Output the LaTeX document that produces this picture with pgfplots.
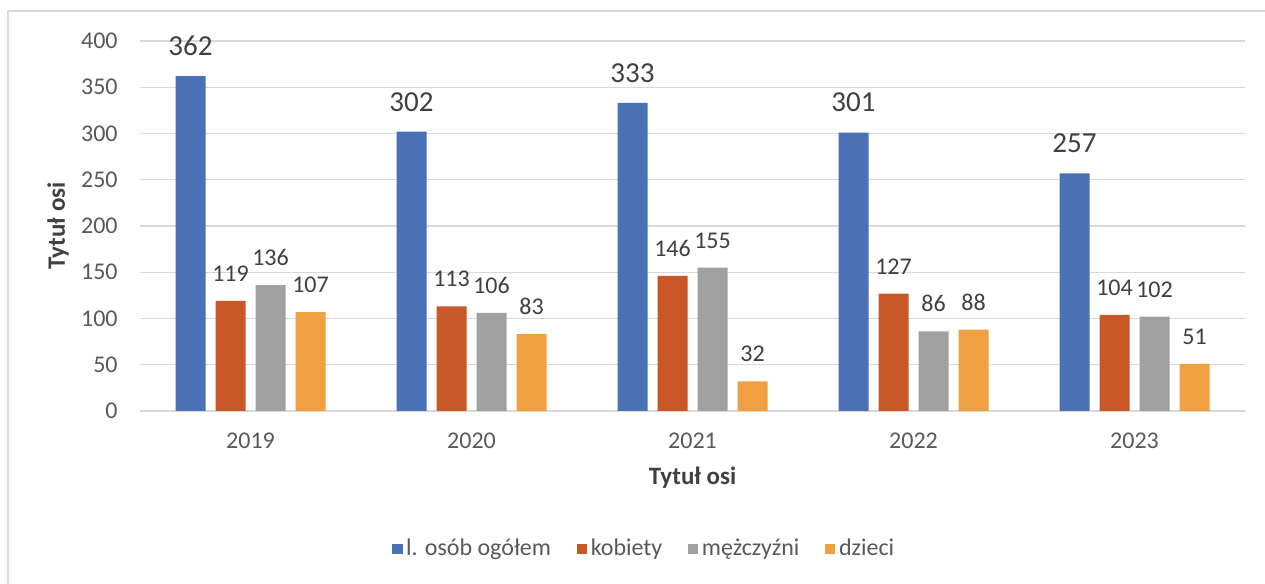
\documentclass[border=0pt]{standalone}
\usepackage{pgfplots}
\pgfplotsset{compat=1.18}
\usepackage{fontspec}
\setmainfont{Carlito}

\definecolor{cBlue}{HTML}{4A70B6}
\definecolor{cRed}{HTML}{C85828}
\definecolor{cGray}{HTML}{A0A0A0}
\definecolor{cGold}{HTML}{F0A040}
\definecolor{cGrid}{HTML}{D9D9D9}
\definecolor{cTick}{HTML}{595959}
\definecolor{cLabel}{HTML}{404040}

\begin{document}
\begin{tikzpicture}
\useasboundingbox (0,0) rectangle (632.5pt,292pt);
\fill[white] (0,0) rectangle (632.5pt,292pt);
\draw[cGrid, line width=0.6pt] (4pt,0) -- (4pt,286.5pt) -- (632.5pt,286.5pt);

\begin{axis}[
    at={(70pt,86.5pt)}, anchor=south west,
    scale only axis, width=552.5pt, height=185pt,
    ybar=5pt, bar width=15pt,
    xmin=-0.5, xmax=4.5, ymin=0, ymax=400,
    xtick=data, xticklabels={2019,2020,2021,2022,2023},
    ytick={0,50,...,400},
    major tick length=0pt,
    axis line style={draw=none},
    ymajorgrids, grid style={cGrid, line width=0.6pt},
    /pgf/number format/assume math mode=true,
    ticklabel style={font=\fontsize{12}{14}\selectfont, text=cTick},
    xticklabel style={anchor=center, yshift=-15pt},
    yticklabel style={anchor=east, inner sep=0pt, xshift=-11pt},
    xlabel={Tytuł osi}, ylabel={Tytuł osi},
    label style={font=\fontsize{12.5}{14}\selectfont\bfseries, text=cLabel},
    xlabel style={at={(axis description cs:0.5,-0.181)}, anchor=center},
    ylabel style={at={(axis description cs:-0.0742,0.5)}, anchor=center},
    nodes near coords,
    every node near coord/.append style={font=\fontsize{12}{14}\selectfont, text=cLabel, inner sep=0pt, yshift=9.5pt},
    clip=false,
    legend image code/.code={\fill[#1, draw=none] (0pt,-2.6pt) rectangle (5.2pt,2.6pt);},
    legend style={at={(axis description cs:0.457,-0.373)}, anchor=center,
        draw=none, fill=none, legend columns=-1,
        nodes={inner sep=1.8pt},
        font=\fontsize{12}{14}\selectfont, text=cTick,
        /tikz/every even column/.append style={column sep=11pt}},
]

\addplot[fill=cBlue, draw=none,
    every node near coord/.append style={font=\fontsize{14.5}{16}\selectfont, yshift=0.5pt}]
    coordinates {(0,362) (1,302) (2,333) (3,301) (4,257)};
\addplot[fill=cRed, draw=none]
    coordinates {(0,119) (1,113) (2,146) (3,127) (4,104)};
\addplot[fill=cGray, draw=none]
    coordinates {(0,136) (1,106) (2,155) (3,86) (4,102)};
\addplot[fill=cGold, draw=none]
    coordinates {(0,107) (1,83) (2,32) (3,88) (4,51)};

\legend{l. osób ogółem, kobiety, mężczyźni, dzieci}
\end{axis}
\end{tikzpicture}
\end{document}
